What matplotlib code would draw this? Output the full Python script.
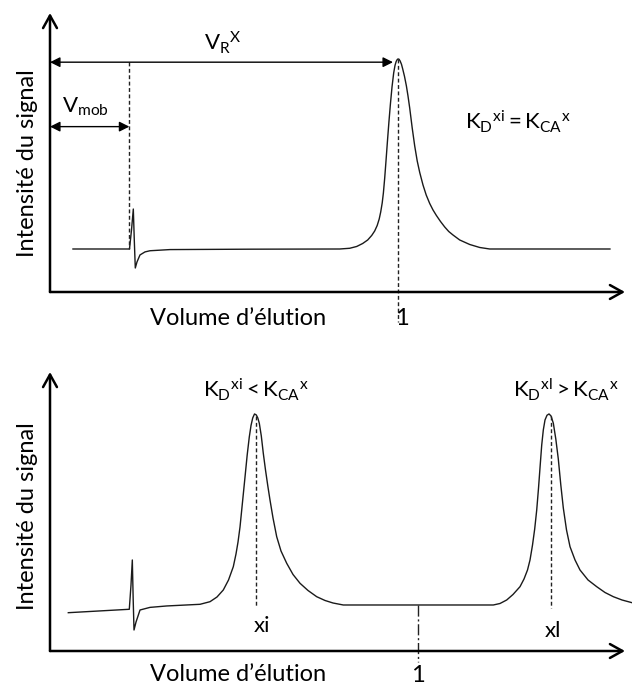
import matplotlib
matplotlib.use("Agg")
import matplotlib.pyplot as plt

plt.rcParams['font.family'] = ['Lato', 'DejaVu Sans']
plt.rcParams['mathtext.fontset'] = 'custom'
plt.rcParams['mathtext.rm'] = 'Lato'
plt.rcParams['mathtext.it'] = 'Lato:italic'
plt.rcParams['mathtext.bf'] = 'Lato:bold'

# ---------------- data (relative elution volume, relative signal) ----------------
# Top panel: single analyte eluting at relative volume 1
top_x = [0.066, 0.2284, 0.2342, 0.2394, 0.2422, 0.2451, 0.250, 0.2586, 0.273, 0.2874,
         0.3448, 0.5747,
         0.8325, 0.8612, 0.8813, 0.8986, 0.9129, 0.9244, 0.9330, 0.9402, 0.9460, 0.9503,
         0.9546, 0.9580, 0.9618, 0.9655, 0.9695, 0.9739, 0.9782, 0.9828, 0.9876, 0.9914,
         0.9948, 0.9977, 1.0000,
         1.0029, 1.0063, 1.0101, 1.0135, 1.0187, 1.0241, 1.0287, 1.0336, 1.0408, 1.0480,
         1.0552, 1.0624, 1.0718, 1.0810, 1.0911, 1.1006, 1.1103, 1.1221, 1.1342, 1.1457,
         1.1580, 1.1773, 1.2060, 1.2348, 1.2635, 1.609]
top_y = [0.1845, 0.1845, 0.266, 0.356, 0.223, 0.103, 0.129, 0.159, 0.172, 0.177,
         0.182, 0.1837,
         0.1845, 0.1876, 0.1953, 0.2082, 0.2232, 0.2425, 0.2618, 0.2854, 0.3133, 0.3433,
         0.3820, 0.4249, 0.4893, 0.5622, 0.6438, 0.7296, 0.8069, 0.8798, 0.9399, 0.9721,
         0.9893, 0.9970, 1.0000,
         0.9987, 0.9906, 0.9764, 0.9571, 0.9249, 0.8841, 0.8412, 0.7897, 0.7039, 0.6266,
         0.5622, 0.5129, 0.4592, 0.4163, 0.3798, 0.3519, 0.3283, 0.3026, 0.2790, 0.2597,
         0.2446, 0.2232, 0.2039, 0.1910, 0.1845, 0.1845]

# Bottom panel: two analytes xi (< 1) and xl (> 1)
bot_x = [0.0497, 0.2153, 0.2199, 0.2235, 0.2259, 0.2281, 0.2335, 0.2444, 0.2715, 0.3169,
         0.4073, 0.4344, 0.4534, 0.4705, 0.4847, 0.4977, 0.5050, 0.5105, 0.5159, 0.5227,
         0.5295, 0.5354, 0.5411, 0.5458, 0.5504, 0.5553,
         0.5601, 0.5642, 0.5683, 0.5737, 0.5791, 0.5851, 0.5914, 0.5973, 0.6055, 0.6155,
         0.6272, 0.6427, 0.6598, 0.6788, 0.7005, 0.7241, 0.7467, 0.7684, 0.7964,
         1.2036, 1.2218, 1.2400, 1.2571, 1.2761, 1.2870, 1.2965, 1.3033, 1.3101, 1.3160,
         1.3215, 1.3264, 1.3310, 1.3351, 1.3394, 1.3440, 1.3494, 1.3549,
         1.3603, 1.3666, 1.3733, 1.3801, 1.3869, 1.3937, 1.4024, 1.4119, 1.4255, 1.4390,
         1.4608, 1.4844, 1.5069, 1.5295, 1.5531, 1.5802]
bot_y = [0.1616, 0.176, 0.278, 0.384, 0.215, 0.0886, 0.122, 0.173, 0.184, 0.190,
         0.1970, 0.2080, 0.2278, 0.2574, 0.2996, 0.3557, 0.4093, 0.4599, 0.5232, 0.6287,
         0.7342, 0.8270, 0.9030, 0.9515, 0.9831, 1.0000,
         0.9958, 0.9831, 0.9608, 0.9072, 0.8342, 0.7637, 0.6962, 0.6371, 0.5612, 0.4823,
         0.4219, 0.3700, 0.3228, 0.2857, 0.2553, 0.2291, 0.2131, 0.2025, 0.1941,
         0.1941, 0.2004, 0.2152, 0.2384, 0.2713, 0.3038, 0.3418, 0.3840, 0.4473, 0.5148,
         0.5949, 0.6878, 0.7848, 0.8692, 0.9325, 0.9747, 0.9945, 1.0000,
         0.9916, 0.9608, 0.8945, 0.8101, 0.7004, 0.6034, 0.5105, 0.4401, 0.3840, 0.3418,
         0.2996, 0.2713, 0.2468, 0.2291, 0.2152, 0.2038]

v_mob = 0.228          # mobile phase volume (relative)
v_r = 1.0              # retention volume of X (relative)
x_i = 0.560            # peak xi
x_l = 1.3590           # peak xl

tick_label = "1"
xlabel = "Volume d\u2019\u00e9lution"
ylabel = "Intensit\u00e9 du signal"

# ---------------- figure ----------------
W, H = 632, 687
fig = plt.figure(figsize=(W / 100, H / 100), dpi=100)

lab_fs = 17
ann_fs = 16
curve_kw = dict(color='#1a1a1a', lw=1.0, solid_joinstyle='round')
dash = (0, (2.8, 1.8))


def base_axes(rect, xlim, ylim, xtip):
    ax = fig.add_axes(rect)
    ax.set_xlim(*xlim)
    ax.set_ylim(*ylim)
    for s in ax.spines.values():
        s.set_visible(False)
    ax.set_xticks([])
    ax.set_yticks([])
    ax.patch.set_alpha(0)
    akw = dict(arrowstyle='->,head_length=0.45,head_width=0.25', lw=1.8,
               color='black', shrinkA=0, shrinkB=0, mutation_scale=20)
    ax.annotate('', xy=(xtip, 0), xytext=(0, 0), xycoords='axes fraction',
                arrowprops=akw, annotation_clip=False)
    ax.annotate('', xy=(0, 1), xytext=(0, 0), xycoords='axes fraction',
                arrowprops=akw, annotation_clip=False)
    return ax


# ---- top panel ----
ax1 = base_axes([50 / W, (H - 292) / H, 582 / W, 279 / H], (0, 1.6724), (0, 1.197), 575 / 582)
ax1.plot(top_x, top_y, clip_on=False, **curve_kw)
ax1.plot([v_mob, v_mob], [0.986, 0.185], color='#222', lw=1.0, linestyle=dash)
ax1.plot([v_r, v_r], [1.0, -0.129], color='#222', lw=1.0, linestyle=dash, clip_on=False)
fkw = dict(arrowstyle='<|-|>,head_length=0.6,head_width=0.3', lw=1.0, color='black',
           shrinkA=0, shrinkB=0, mutation_scale=10)
ax1.annotate('', xy=(0.9856, 0.986), xytext=(0, 0.986), arrowprops=fkw)
ax1.annotate('', xy=(v_mob, 0.7095), xytext=(0, 0.7095), arrowprops=fkw)
ax1.text(0.443, 1.0386, r'$\mathregular{V_R{}^{X}}$', fontsize=ann_fs, ha='left', va='baseline')
ax1.text(0.0345, 0.768, r'$\mathregular{V_{mob}}$', fontsize=ann_fs, ha='left', va='baseline')
ax1.text(1.345, 0.698, r'$\mathregular{K_D{}^{xi} = K_{CA}{}^{x}}$', fontsize=ann_fs,
         ha='center', va='baseline')
ax1.text(0.540, -0.1416, xlabel, fontsize=lab_fs, ha='center', va='baseline')
ax1.text(1.0115, -0.1416, tick_label, fontsize=lab_fs, ha='center', va='baseline')
ax1.text(-0.0395, 0.462, ylabel, fontsize=lab_fs, rotation=90, ha='center', va='center',
         transform=ax1.transAxes)

# ---- bottom panel ----
ax2 = base_axes([50 / W, (H - 651) / H, 582 / W, 279 / H], (0, 1.5802), (0, 1.177), 575 / 582)
ax2.plot(bot_x, bot_y, clip_on=False, **curve_kw)
ax2.plot([x_i, x_i], [0.99, 0.185], color='#222', lw=1.0, linestyle=dash)
ax2.plot([x_l, x_l], [0.99, 0.181], color='#222', lw=1.0, linestyle=dash)
ax2.plot([v_r, v_r], [0.194, -0.046], color='#222', lw=1.0,
         linestyle=(0, (8, 2, 1.5, 2)), clip_on=False)
ax2.text(0.5593, 1.0675, r'$\mathregular{K_D{}^{xi} < K_{CA}{}^{x}}$', fontsize=ann_fs,
         ha='center', va='baseline')
ax2.text(1.401, 1.0675, r'$\mathregular{K_D{}^{xl} > K_{CA}{}^{x}}$', fontsize=ann_fs,
         ha='center', va='baseline')
ax2.text(0.5756, 0.0814, 'xi', fontsize=ann_fs, ha='center', va='baseline')
ax2.text(1.3657, 0.060, 'xl', fontsize=ann_fs, ha='center', va='baseline')
ax2.text(0.5105, -0.1266, xlabel, fontsize=lab_fs, ha='center', va='baseline')
ax2.text(1.0, -0.131, tick_label, fontsize=lab_fs, ha='center', va='baseline')
ax2.text(-0.0395, 0.482, ylabel, fontsize=lab_fs, rotation=90, ha='center', va='center',
         transform=ax2.transAxes)

fig.savefig('out.png', dpi=100)
